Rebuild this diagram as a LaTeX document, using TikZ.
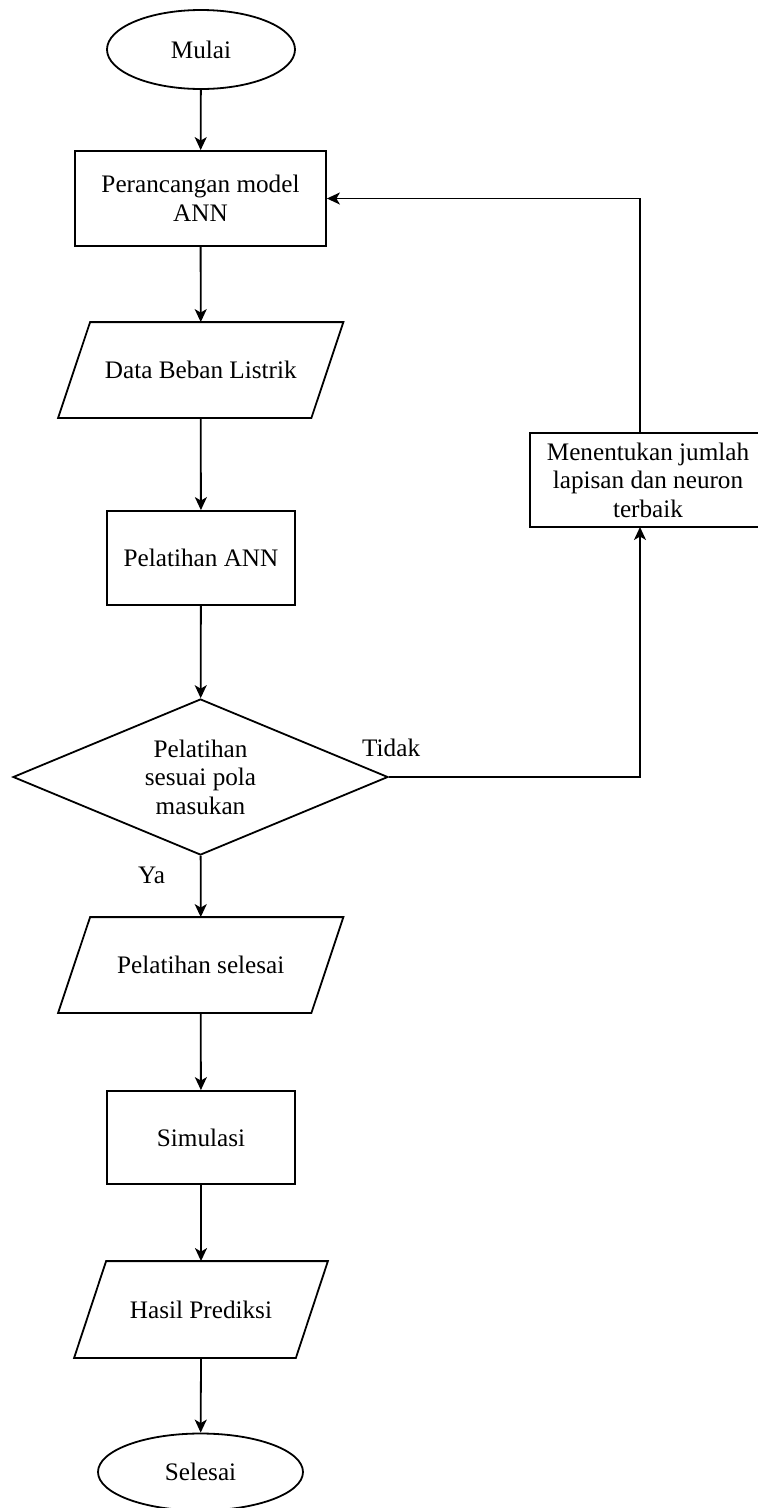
\documentclass[tikz,border=0pt]{standalone}
\usepackage{fontspec}
\setmainfont{Liberation Serif}
\usetikzlibrary{shapes.geometric,arrows.meta,calc}

\tikzset{
  base/.style={line width=1.8pt, font=\fontsize{25.2}{28.5}\selectfont, align=center, inner sep=0pt},
  terminal/.style={base, draw, ellipse},
  procbox/.style={base, draw, rectangle},
  iobox/.style={base, rectangle},
  decision/.style={base, draw, diamond, aspect=2.4},
  flow/.style={line width=1.8pt, -{Stealth[length=13pt,width=12pt,inset=3.5pt]}},
  lbl/.style={font=\fontsize{25.2}{28.5}\selectfont, inner sep=0pt},
  ioslant/.style={line width=1.8pt, line join=miter}
}

\newcommand{\ioshape}[2]{%
  \draw[ioslant] ([xshift=#2]#1.north west) -- ([xshift=#2]#1.north east)
    -- ([xshift=-#2]#1.south east) -- ([xshift=-#2]#1.south west) -- cycle;}

\begin{document}
\begin{tikzpicture}[x=1pt,y=-1pt]
\useasboundingbox (0,0) rectangle (758,1508);

% main column
\node[terminal, minimum width=188pt, minimum height=79pt] (start) at (201,49.5) {Mulai};
\node[procbox, minimum width=251pt, minimum height=95pt] (design) at (200.5,198.5) {Perancangan model\\ANN};
\node[iobox, minimum width=251.5pt, minimum height=94pt] (data) at (200.75,370) {Data Beban Listrik};
\ioshape{data}{16pt}
\node[procbox, minimum width=188pt, minimum height=94pt] (train) at (201,558) {Pelatihan ANN};
\node[decision, minimum width=375pt, minimum height=156pt] (check) at (200.5,777) {Pelatihan\\sesuai pola\\masukan};
\node[iobox, minimum width=251.5pt, minimum height=94pt] (done) at (200.75,965) {Pelatihan selesai};
\ioshape{done}{16pt}
\node[procbox, minimum width=188pt, minimum height=93pt] (sim) at (201,1137.5) {Simulasi};
\node[iobox, minimum width=220pt, minimum height=95pt] (result) at (201,1309.5) {Hasil Prediksi};
\ioshape{result}{16pt}
\node[terminal, minimum width=205pt, minimum height=77pt] (stop) at (200.5,1472) {Selesai};

% side branch
\node[procbox, minimum width=236pt, minimum height=94pt] (tune) at (648,480) {Menentukan jumlah\\lapisan dan neuron\\terbaik};
\coordinate (tunein) at (640,527);
\coordinate (tuneout) at (640,433);

% connectors
\draw[flow] (start) -- (design);
\draw[flow] (design) -- (data.north);
\draw[flow] (data.south) -- (train);
\draw[flow] (train) -- (check);
\draw[flow] (check) -- (done.north);
\draw[flow] (done.south) -- (sim);
\draw[flow] (sim) -- (result.north);
\draw[flow] (result.south) -- (stop);
\draw[flow] (check.east) -| (tunein);
\draw[flow] (tuneout) |- (design.east);

% branch labels
\node[lbl, anchor=base west] (no) at (362,756) {Tidak};
\node[lbl, anchor=base west] (yes) at (138,883) {Ya};
\end{tikzpicture}
\end{document}
